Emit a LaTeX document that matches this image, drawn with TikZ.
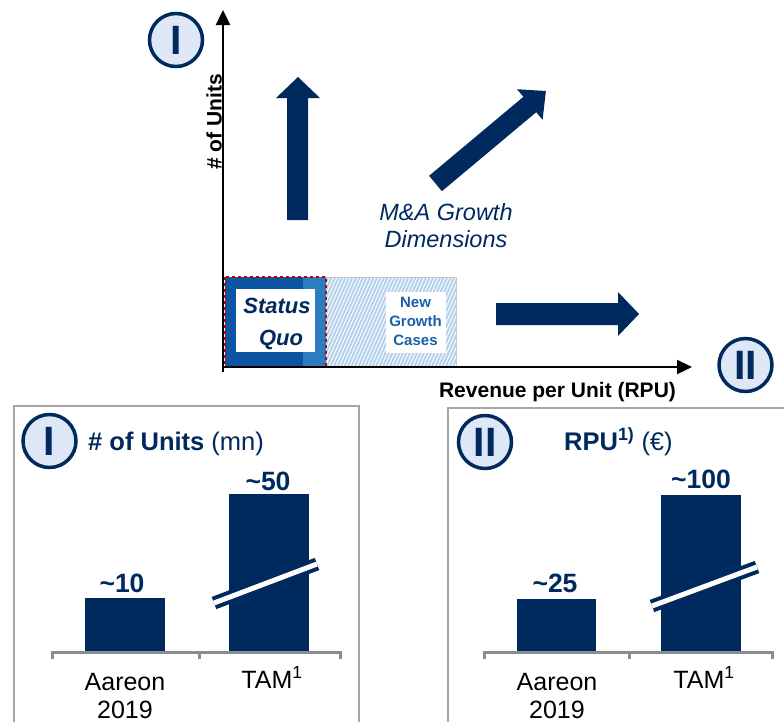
\documentclass[tikz,border=0pt]{standalone}
\usepackage{fontspec}
\setmainfont{Liberation Sans}
\usetikzlibrary{arrows.meta}
\definecolor{navy}{HTML}{00295E}
\definecolor{circfill}{HTML}{DDE7F5}
\definecolor{sqdark}{HTML}{0B55A2}
\definecolor{sqlight}{HTML}{2C7DC0}
\definecolor{hatchbg}{HTML}{B5D1EB}
\definecolor{ngtext}{HTML}{1A5FA8}
\definecolor{panelgray}{HTML}{A6A6A6}
\definecolor{axgray}{HTML}{8C8C8C}
\definecolor{boxgray}{HTML}{C8C8C8}
\definecolor{sqred}{HTML}{C00000}
\newcommand{\tld}{{\char"7E}}
\begin{document}
\begin{tikzpicture}[x=1pt,y=-1pt,
  numcircle/.style={circle,draw=navy,line width=3.5pt,fill=circfill,minimum size=53pt,inner sep=0pt,text=navy,font=\fontsize{41}{41}\selectfont\bfseries},
  axisline/.style={draw=black,line width=2.3pt,-{Triangle[length=15pt,width=14pt]}},
  blockarrow/.style={fill=navy},
  bar/.style={fill=navy},
  breakouter/.style={draw=navy,line width=13pt},
  breakinner/.style={draw=white,line width=5pt},
  panel/.style={draw=panelgray,line width=1.8pt},
  baseaxis/.style={draw=axgray,line width=3pt},
  valtext/.style={anchor=base,text=navy,font=\fontsize{26.5}{26.5}\selectfont\bfseries,inner sep=0pt},
  cattext/.style={anchor=base,text=black,font=\fontsize{25}{25}\selectfont,inner sep=0pt},
  sqtext/.style={anchor=base,text=navy,font=\fontsize{22}{22}\selectfont\bfseries\itshape,inner sep=0pt},
  ngtxt/.style={anchor=base,text=ngtext,font=\fontsize{15}{15}\selectfont\bfseries,inner sep=0pt},
  matext/.style={anchor=base,text=navy,font=\fontsize{23.5}{23.5}\selectfont\itshape,inner sep=0pt},
  axlabel/.style={anchor=base,text=black,font=\fontsize{21}{21}\selectfont\bfseries,inner sep=0pt},
  ttext/.style={anchor=base west,text=navy,font=\fontsize{25.5}{25.5}\selectfont,inner sep=0pt}
]
\useasboundingbox (0,0) rectangle (784,721);

% ---------- top matrix ----------
\begin{scope}
  \clip (326,277) rectangle (456,367);
  \fill[hatchbg] (326,277) rectangle (456,367);
  \foreach \x in {220,223.5,...,470} {
    \draw[white,line width=0.9pt] (\x,367) -- (\x+40,277);
  }
\end{scope}
\draw[boxgray,line width=1pt] (224,277) -- (456,277) -- (456,367);
\fill[sqdark] (225,277) rectangle (303,367);
\fill[sqlight] (303,277) rectangle (326,367);
\fill[white] (236,289) rectangle (315,352);
\draw[sqred,dashed,line width=1.3pt] (225,277) rectangle (326,367);
\fill[white] (386,292) rectangle (446,353);
\node[sqtext] (sq1) at (277,313) {Status};
\node[sqtext] (sq2) at (281,345) {Quo};
\node[ngtxt] (ng1) at (415.5,307.5) {New};
\node[ngtxt] (ng2) at (415.5,326.5) {Growth};
\node[ngtxt] (ng3) at (415.5,345.5) {Cases};

% axes
\coordinate (ybot) at (223,372);
\coordinate (ytop) at (223,10);
\coordinate (xleft) at (222,367);
\coordinate (xright) at (692,367);
\draw[axisline] (ybot) -- (ytop);
\draw[axisline] (xleft) -- (xright);
\node[axlabel,rotate=90] (ylab) at (221.5,122) {\# of Units};
\node[axlabel] (xlab) at (557.5,397) {Revenue per Unit (RPU)};

\node[numcircle] (c1) at (176,40) {I};
\node[numcircle] (c2) at (745.5,365) {II};

% up arrow
\fill[blockarrow] (287,220) -- (308,220) -- (308,98) -- (320,98) -- (298,77) -- (276,98) -- (287,98) -- cycle;
% right arrow
\fill[blockarrow] (496,303) -- (618,303) -- (618,292) -- (639,314) -- (618,336) -- (618,325) -- (496,325) -- cycle;
% diagonal arrow
\fill[blockarrow] (429.1,175.8) -- (441.9,191.2) -- (536.2,112.2) -- (542.6,119.8) -- (545.9,91.0) -- (517.0,89.2) -- (523.4,96.8) -- cycle;

\node[matext] (ma1) at (446,220) {M\&A Growth};
\node[matext] (ma2) at (446,247) {Dimensions};

% ---------- left panel ----------
\draw[panel] (14,730) -- (14,406) -- (359,406) -- (359,730);
\node[numcircle] (c3) at (49.5,441) {I};
\node[ttext] (t1) at (88,450) {\bfseries\# of Units \mdseries(mn)};
\fill[bar] (85,598) rectangle (165,652);
\fill[bar] (229,494) rectangle (309,652);
\draw[breakouter] (214,603) -- (317,564);
\draw[breakinner] (214,603) -- (317,564);
\draw[baseaxis] (52,659) -- (52,652) -- (340,652) -- (340,659);
\draw[baseaxis] (199,652) -- (199,659);
\node[valtext] (v1) at (122,592) {\tld10};
\node[valtext] (v2) at (268,490) {\tld50};
\node[cattext] (l1) at (125,690) {Aareon};
\node[cattext] (l2) at (125,718) {2019};
\node[cattext] (l3) at (272,688) {TAM\textsuperscript{1}};

% ---------- right panel ----------
\draw[panel] (448,730) -- (448,408) -- (790,408);
\node[numcircle] (c4) at (485,442) {II};
\node[ttext] (t2) at (564,450) {\bfseries RPU\textsuperscript{1)} \mdseries(€)};
\fill[bar] (517,599) rectangle (596,652);
\fill[bar] (661,495) rectangle (741,652);
\draw[breakouter] (652,606) -- (757,567);
\draw[breakinner] (652,606) -- (757,567);
\draw[baseaxis] (484,659) -- (484,652) -- (772,652) -- (772,659);
\draw[baseaxis] (629,652) -- (629,659);
\node[valtext] (v3) at (555,592) {\tld25};
\node[valtext] (v4) at (701,488) {\tld100};
\node[cattext] (l4) at (557,690) {Aareon};
\node[cattext] (l5) at (557,718) {2019};
\node[cattext] (l6) at (704,688) {TAM\textsuperscript{1}};
\end{tikzpicture}
\end{document}
